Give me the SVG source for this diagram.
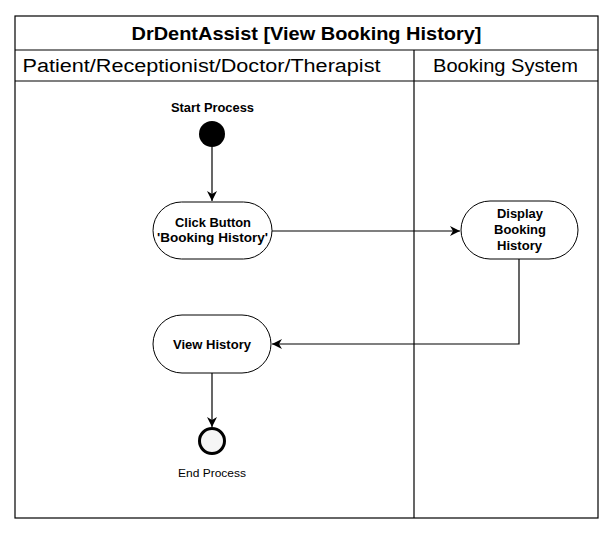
<svg xmlns="http://www.w3.org/2000/svg" width="613" height="534" viewBox="0 0 613 534">
<defs>
<marker id="arr" markerWidth="12" markerHeight="10" refX="10" refY="5" orient="auto" markerUnits="userSpaceOnUse">
<path d="M0,0 L10,5 L0,10 L3,5 Z" fill="#000"/>
</marker>
<style>
.frame{fill:none;stroke:#000;stroke-width:1.2}
.node{fill:#fff;stroke:#000;stroke-width:1}
.nt{font-family:"Liberation Sans",Arial,sans-serif;font-size:12px;font-weight:bold;text-anchor:middle;fill:#000}
.hd{font-family:"Liberation Sans",Arial,sans-serif;font-size:18px;text-anchor:middle;fill:#000}
.conn{fill:none;stroke:#000;stroke-width:1.2;marker-end:url(#arr)}
</style>
</defs>
<rect width="613" height="534" fill="#fff"/>
<g id="pool">
<rect class="frame" x="15" y="16" width="583" height="502"/>
<line class="frame" x1="15" y1="50" x2="598" y2="50"/>
<line class="frame" x1="15" y1="81" x2="598" y2="81"/>
<line class="frame" x1="414" y1="50" x2="414" y2="518"/>
<text class="hd" x="306.5" y="40" font-weight="bold" textLength="350" lengthAdjust="spacingAndGlyphs">DrDentAssist [View Booking History]</text>
<text class="hd" x="201.5" y="72" textLength="358" lengthAdjust="spacingAndGlyphs">Patient/Receptionist/Doctor/Therapist</text>
<text class="hd" x="505.5" y="72" textLength="145" lengthAdjust="spacingAndGlyphs">Booking System</text>
</g>
<g id="connectors">
<line class="conn" x1="212" y1="147" x2="212" y2="201"/>
<line class="conn" x1="272" y1="231" x2="460" y2="231"/>
<polyline class="conn" points="519,259 519,344 272,344"/>
<line class="conn" x1="212" y1="373" x2="212" y2="427"/>
</g>
<g id="start">
<circle cx="212" cy="134" r="13" fill="#000"/>
<text class="nt" x="212.5" y="112" textLength="83" lengthAdjust="spacingAndGlyphs">Start Process</text>
</g>
<g id="click">
<rect class="node" x="153" y="202" width="119" height="57" rx="28.5"/>
<text class="nt" x="213" y="227" textLength="76" lengthAdjust="spacingAndGlyphs">Click Button</text>
<text class="nt" x="212.5" y="242" textLength="111" lengthAdjust="spacingAndGlyphs">'Booking History'</text>
</g>
<g id="display">
<rect class="node" x="461" y="201" width="117" height="58" rx="29"/>
<text class="nt" x="520" y="218" textLength="46" lengthAdjust="spacingAndGlyphs">Display</text>
<text class="nt" x="520" y="234" textLength="52" lengthAdjust="spacingAndGlyphs">Booking</text>
<text class="nt" x="519.5" y="250" textLength="45" lengthAdjust="spacingAndGlyphs">History</text>
</g>
<g id="view">
<rect class="node" x="153" y="315" width="118" height="58" rx="29"/>
<text class="nt" x="212" y="349" textLength="78" lengthAdjust="spacingAndGlyphs">View History</text>
</g>
<g id="end">
<circle cx="212" cy="441" r="12.5" fill="#f5f5f5" stroke="#000" stroke-width="3"/>
<text x="212" y="477" font-family="Liberation Sans,Arial,sans-serif" font-size="11" text-anchor="middle" textLength="68" lengthAdjust="spacingAndGlyphs">End Process</text>
</g>
</svg>
